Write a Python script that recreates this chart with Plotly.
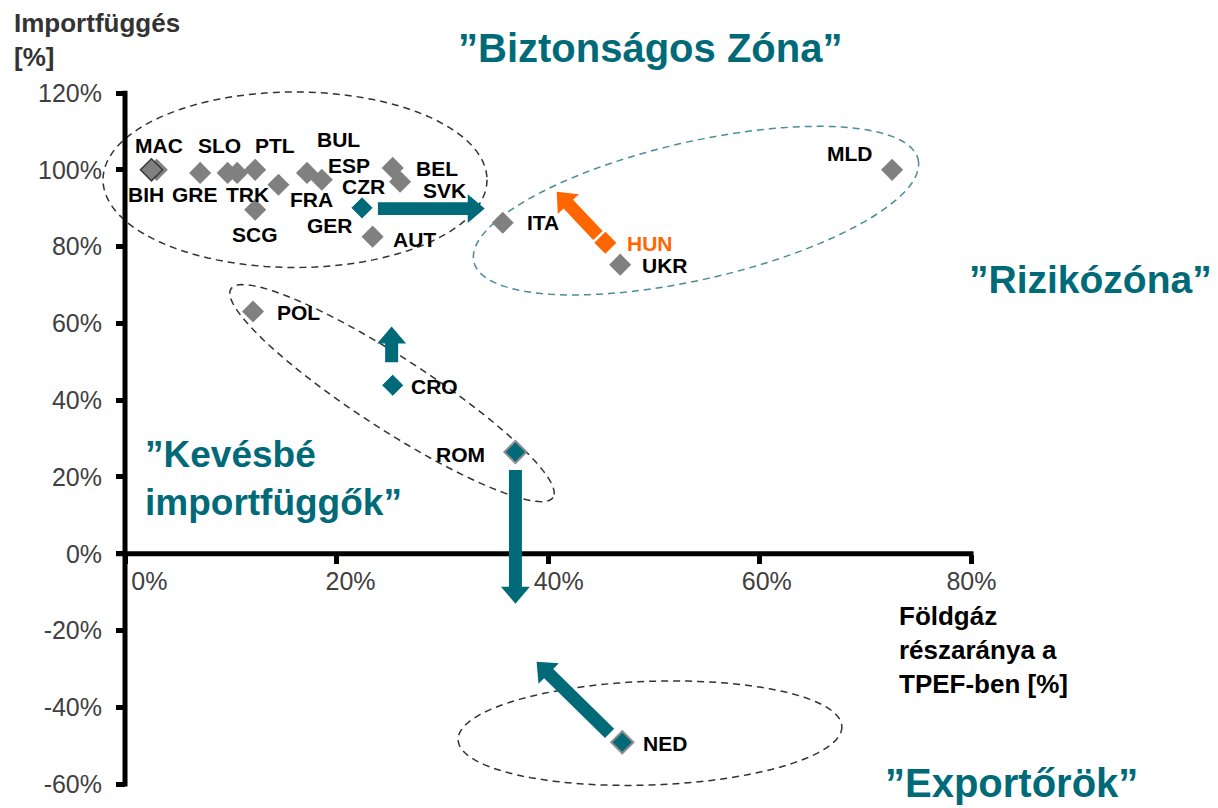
import numpy as np
import plotly.graph_objects as go

# ---------------- data ----------------
countries = ["BIH", "MAC", "GRE", "SLO", "TRK", "PTL", "FRA", "SCG", "BUL", "ESP",
             "BEL", "SVK", "GER", "CZR", "AUT", "ITA", "HUN", "UKR", "MLD",
             "POL", "CRO", "ROM", "NED"]
gas_share = [3.0, 2.5, 7.1, 9.7, 10.6, 12.3, 14.5, 12.3, 17.2, 18.6,
             25.3, 26.0, 22.4, 22.4, 23.4, 35.7, 45.4, 46.8, 72.5,
             12.1, 25.3, 36.9, 47.0]
import_dep = [100.0, 100.0, 99.2, 99.2, 99.2, 100.0, 96.1, 89.6, 99.2, 97.4,
              100.5, 96.9, 90.1, 90.1, 82.6, 86.2, 81.0, 75.3, 100.0,
              63.1, 43.9, 26.5, -49.1]
group = ["gray", "outlined", "gray", "gray", "gray", "gray", "gray", "gray", "gray", "gray",
         "gray", "gray", "gray", "teal", "gray", "gray", "orange", "gray", "gray",
         "gray", "teal", "teal_outlined", "teal_outlined"]

# arrows: from (tail) -> to (tip)
arrow_from_x = [23.9, 44.7, 25.2, 36.9, 45.8]
arrow_from_y = [89.9, 82.9, 49.9, 21.8, -46.8]
arrow_to_x = [34.0, 40.8, 25.2, 36.9, 38.9]
arrow_to_y = [89.9, 94.3, 59.2, -13.0, -28.1]
arrow_kind = ["teal", "orange", "teal", "teal", "teal"]

x_tickvals = [0, 20, 40, 60, 80]
x_ticktext = ["0%", "20%", "40%", "60%", "80%"]
y_tickvals = [-60, -40, -20, 0, 20, 40, 60, 80, 100, 120]
y_ticktext = ["-60%", "-40%", "-20%", "0%", "20%", "40%", "60%", "80%", "100%", "120%"]

# ---------------- styles / layout ----------------
TEAL = "#006a79"
ORANGE = "#ff6600"
GRAY = "#808080"
FONT = "Liberation Sans, Arial, sans-serif"

OFF = 8                      # page body margin around the figure
W, H = 1218 - OFF, 808 - OFF
L, T = 90 - OFF, 80 - OFF
PW, PH = 910, 718
R, B = W - L - PW, H - T - PH
XMIN, XMAX = -3.31, 82.7
YMIN, YMAX = -63.1, 123.4
SX = PW / (XMAX - XMIN)   # px per unit x
SY = PH / (YMAX - YMIN)   # px per unit y


def px_x(p):               # page pixel -> paper fraction
    return (p - OFF - L) / PW


def px_y(p):
    return (H - B - (p - OFF)) / PH


def d2p(x, y):             # data -> page pixel
    return OFF + L + (x - XMIN) * SX, OFF + T + (YMAX - y) * SY


def p2d(px, py):           # page pixel -> data
    return XMIN + (px - OFF - L) / SX, YMAX - (py - OFF - T) / SY


fill_map = {"gray": GRAY, "outlined": GRAY, "teal": TEAL,
            "teal_outlined": TEAL, "orange": ORANGE}
line_col_map = {"gray": GRAY, "outlined": "#3a3a3a", "teal": "#ffffff",
                "teal_outlined": "#8c8c8c", "orange": ORANGE}
line_w_map = {"gray": 0, "outlined": 1.5, "teal": 1, "teal_outlined": 2, "orange": 0}
arrow_col_map = {"teal": TEAL, "orange": ORANGE}

# label offsets in pixels (dx right, dy down) relative to the marker
label_offsets = {
    "MAC": (8, -24), "BIH": (-11, 25), "GRE": (-5, 22), "SLO": (-8, -27),
    "TRK": (10, 22), "PTL": (20, -24), "FRA": (33, 15), "SCG": (0, 25),
    "BUL": (31, -33), "ESP": (27, -14), "BEL": (44, 1), "SVK": (44, 9),
    "GER": (-32, 18), "CZR": (1, -21), "AUT": (42, 3), "ITA": (40, 0),
    "HUN": (45, 1), "UKR": (45, 1), "MLD": (-42, -16), "POL": (45, 1),
    "CRO": (42, 1), "ROM": (-55, 2), "NED": (43, 1),
}


def ellipse_path(cx_px, cy_px, a, b, ang_deg, n=120):
    th = np.deg2rad(ang_deg)
    t = np.linspace(0, 2 * np.pi, n, endpoint=False)
    xs = cx_px + a * np.cos(t) * np.cos(th) - b * np.sin(t) * np.sin(th)
    ys = cy_px + a * np.cos(t) * np.sin(th) + b * np.sin(t) * np.cos(th)
    pts = [p2d(x, y) for x, y in zip(xs, ys)]
    return "M" + " L".join(f"{x:.3f},{y:.3f}" for x, y in pts) + " Z"


def block_arrow_path(fx, fy, tx, ty, shaft=13, head_w=29, head_l=17):
    x0, y0 = d2p(fx, fy)
    x1, y1 = d2p(tx, ty)
    v = np.array([x1 - x0, y1 - y0])
    u = v / np.hypot(*v)
    n = np.array([-u[1], u[0]])
    p0 = np.array([x0, y0])
    tip = np.array([x1, y1])
    hb = tip - u * head_l
    poly = [p0 + n * shaft / 2, hb + n * shaft / 2, hb + n * head_w / 2, tip,
            hb - n * head_w / 2, hb - n * shaft / 2, p0 - n * shaft / 2]
    pts = [p2d(p[0], p[1]) for p in poly]
    return "M" + " L".join(f"{x:.3f},{y:.3f}" for x, y in pts) + " Z"


fig = go.Figure()

fig.add_trace(go.Scatter(
    x=gas_share, y=import_dep, mode="markers",
    marker=dict(symbol="diamond", size=17,
                color=[fill_map[g] for g in group],
                line=dict(color=[line_col_map[g] for g in group],
                          width=[line_w_map[g] for g in group])),
    hoverinfo="skip", showlegend=False,
))

shapes = []
dash = "7px,5px"
shapes.append(dict(type="path", xref="x", yref="y", layer="below",
                   path=ellipse_path(295, 180, 192, 88, 0),
                   line=dict(color="#333333", width=1.5, dash=dash)))
shapes.append(dict(type="path", xref="x", yref="y", layer="below",
                   path=ellipse_path(696, 211, 228, 69, -13),
                   line=dict(color="#4a8d99", width=1.5, dash=dash)))
shapes.append(dict(type="path", xref="x", yref="y", layer="below",
                   path=ellipse_path(392, 394, 192, 36, 33),
                   line=dict(color="#333333", width=1.5, dash=dash)))
shapes.append(dict(type="path", xref="x", yref="y", layer="below",
                   path=ellipse_path(650, 735, 192, 52, -2),
                   line=dict(color="#333333", width=1.5, dash=dash)))
# axis lines
shapes.append(dict(type="line", xref="x", yref="y", layer="below",
                   x0=0, x1=0, y0=y_tickvals[0] - 0.6, y1=y_tickvals[-1] + 0.6,
                   line=dict(color="black", width=5)))
shapes.append(dict(type="line", xref="x", yref="y", layer="below",
                   x0=-0.85, x1=x_tickvals[-1] + 0.2, y0=0, y1=0,
                   line=dict(color="black", width=5)))
# block arrows
for fx, fy, tx, ty, k in zip(arrow_from_x, arrow_from_y, arrow_to_x, arrow_to_y, arrow_kind):
    shapes.append(dict(type="path", xref="x", yref="y", layer="above",
                       path=block_arrow_path(fx, fy, tx, ty),
                       fillcolor=arrow_col_map[k], line=dict(width=0)))

annotations = []
for c, xv, yv, g in zip(countries, gas_share, import_dep, group):
    dx, dy = label_offsets[c]
    annotations.append(dict(
        x=xv, y=yv, xref="x", yref="y", text=c, showarrow=False,
        xshift=dx, yshift=-dy,
        font=dict(family=FONT, size=21, weight="bold",
                  color=ORANGE if g == "orange" else "black")))

zone_font = dict(family=FONT, size=40, weight="bold", color=TEAL)
annotations += [
    dict(x=px_x(650), y=px_y(48), xref="paper", yref="paper", showarrow=False,
         text="\u201dBiztonságos Zóna\u201d", xanchor="center", yanchor="middle", font=zone_font),
    dict(x=px_x(1090), y=px_y(280), xref="paper", yref="paper", showarrow=False,
         text="\u201dRizikózóna\u201d", xanchor="center", yanchor="middle",
         font=dict(family=FONT, size=39, weight="bold", color=TEAL)),
    dict(x=px_x(143), y=px_y(480), xref="paper", yref="paper", showarrow=False,
         text="\u201dKevésbé<br>importfüggők\u201d", xanchor="left", yanchor="middle",
         align="left", font=dict(family=FONT, size=37, weight="bold", color=TEAL)),
    dict(x=px_x(1011), y=px_y(785), xref="paper", yref="paper", showarrow=False,
         text="\u201dExportőrök\u201d", xanchor="center", yanchor="middle", font=zone_font),
    dict(x=px_x(12), y=px_y(40), xref="paper", yref="paper", showarrow=False,
         text="Importfüggés<br>[%]", xanchor="left", yanchor="middle", align="left",
         font=dict(family=FONT, size=26, weight="bold", color="#333333")),
    dict(x=px_x(897), y=px_y(652), xref="paper", yref="paper", showarrow=False,
         text="Földgáz<br>részaránya a<br>TPEF-ben [%]", xanchor="left", yanchor="middle",
         align="left", font=dict(family=FONT, size=26, weight="bold", color="black")),
]

nb = "\u00a0"
pad = [7, 4, 3, 2, 0]
x_ticktext_shown = [nb * p + t for p, t in zip(pad, x_ticktext)]

fig.update_layout(
    width=W, height=H, margin=dict(l=L, r=R, t=T, b=B),
    paper_bgcolor="white", plot_bgcolor="white",
    xaxis=dict(range=[XMIN, XMAX], anchor="free", position=(0 - YMIN) / (YMAX - YMIN),
               tickvals=x_tickvals, ticktext=x_ticktext_shown,
               ticks="outside", ticklen=9, tickwidth=5, tickcolor="black",
               showgrid=False, zeroline=False, showline=False,
               tickfont=dict(family=FONT, size=25, color="#404040"),
               ticklabelstandoff=-4),
    yaxis=dict(range=[YMIN, YMAX], anchor="free", position=(0 - XMIN) / (XMAX - XMIN),
               tickvals=y_tickvals, ticktext=y_ticktext,
               ticks="outside", ticklen=9, tickwidth=5, tickcolor="black",
               showgrid=False, zeroline=False, showline=False,
               tickfont=dict(family=FONT, size=25, color="#404040"),
               ticklabelstandoff=9),
    shapes=shapes, annotations=annotations, showlegend=False,
)

fig.write_html("out.html")
